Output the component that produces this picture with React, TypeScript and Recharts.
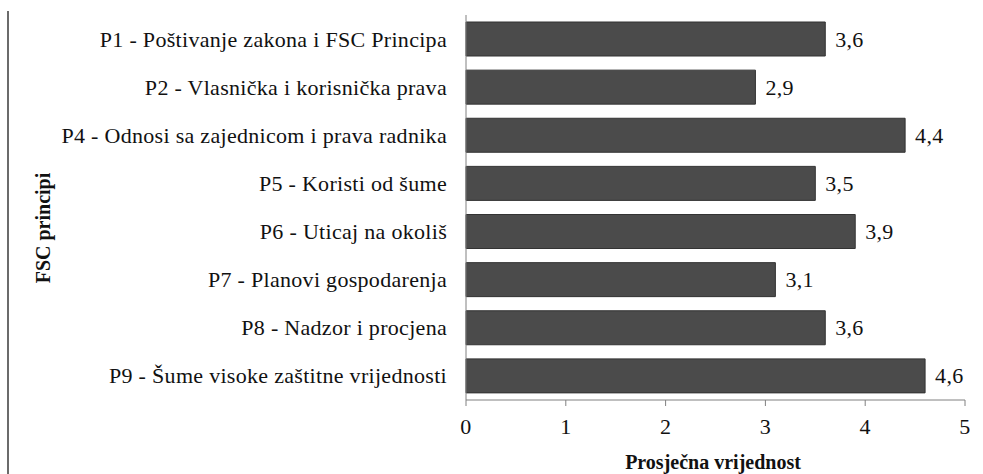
import React from 'react';
import { BarChart, Bar, XAxis, YAxis, LabelList, Label } from 'recharts';

const principles = [
  'P1 - Poštivanje zakona i FSC Principa',
  'P2 - Vlasnička i korisnička prava',
  'P4 - Odnosi sa zajednicom i prava radnika',
  'P5 - Koristi od šume',
  'P6 - Uticaj na okoliš',
  'P7 - Planovi gospodarenja',
  'P8 - Nadzor i procjena',
  'P9 - Šume visoke zaštitne vrijednosti',
];
const averages = [3.6, 2.9, 4.4, 3.5, 3.9, 3.1, 3.6, 4.6];
const xTicks = [0, 1, 2, 3, 4, 5];

const data = principles.map((name, i) => ({ name, value: averages[i] }));

const font = "'Liberation Serif', 'Times New Roman', serif";
const textStyle: React.CSSProperties = {
  fontFamily: font,
  fontSize: 22,
  fontWeight: 'normal',
  fill: '#111',
  letterSpacing: '0.3px',
};
const titleStyle: React.CSSProperties = { fontFamily: font, fontSize: 20, fontWeight: 'bold', fill: '#111' };

const fmt = (v: any) => Number(v).toFixed(1).replace('.', ',');

const YTick = (props: any) => {
  const { x, y, payload } = props;
  return (
    <text x={x} y={y} textAnchor="end" dominantBaseline="central" style={textStyle}>
      {payload.value}
    </text>
  );
};

const XTick = (props: any) => {
  const { x, y, payload } = props;
  return (
    <text x={x} y={y} textAnchor="middle" dy="0.72em" style={textStyle}>
      {payload.value}
    </text>
  );
};

const ValueLabel = (props: any) => {
  const { x, y, width, height, value } = props;
  return (
    <text x={x + width + 10} y={y + height / 2} dominantBaseline="central" style={textStyle}>
      {fmt(value)}
    </text>
  );
};

export default function App() {
  return (
    <div style={{ position: 'absolute', left: 0, top: 0, width: 983, height: 474, background: '#fff' }}>
      <div style={{ position: 'absolute', left: 7, top: 11, width: 1.5, height: 463, background: '#6b6b6b' }} />
      <BarChart
        width={983}
        height={474}
        data={data}
        layout="vertical"
        margin={{ top: 15, right: 18, bottom: 44, left: 0 }}
        barSize={34}
      >
        <XAxis
          type="number"
          domain={[0, 5]}
          ticks={xTicks}
          height={30}
          stroke="#808080"
          tickSize={6}
          tickMargin={12}
          tick={<XTick />}
        >
          <Label
            content={() => (
              <text x={713} y={462} textAnchor="middle" dominantBaseline="central" style={titleStyle}>
                Prosječna vrijednost
              </text>
            )}
          />
        </XAxis>
        <YAxis
          type="category"
          dataKey="name"
          width={466}
          stroke="#808080"
          tickLine={false}
          tickSize={6}
          tickMargin={13}
          tick={<YTick />}
          interval={0}
        >
          <Label
            content={() => (
              <text
                x={43}
                y={228}
                textAnchor="middle"
                dominantBaseline="central"
                transform="rotate(-90 43 228)"
                style={titleStyle}
              >
                FSC principi
              </text>
            )}
          />
        </YAxis>
        <Bar dataKey="value" fill="#4b4b4b" stroke="#333" strokeWidth={1} isAnimationActive={false}>
          <LabelList dataKey="value" content={<ValueLabel />} />
        </Bar>
      </BarChart>
    </div>
  );
}
